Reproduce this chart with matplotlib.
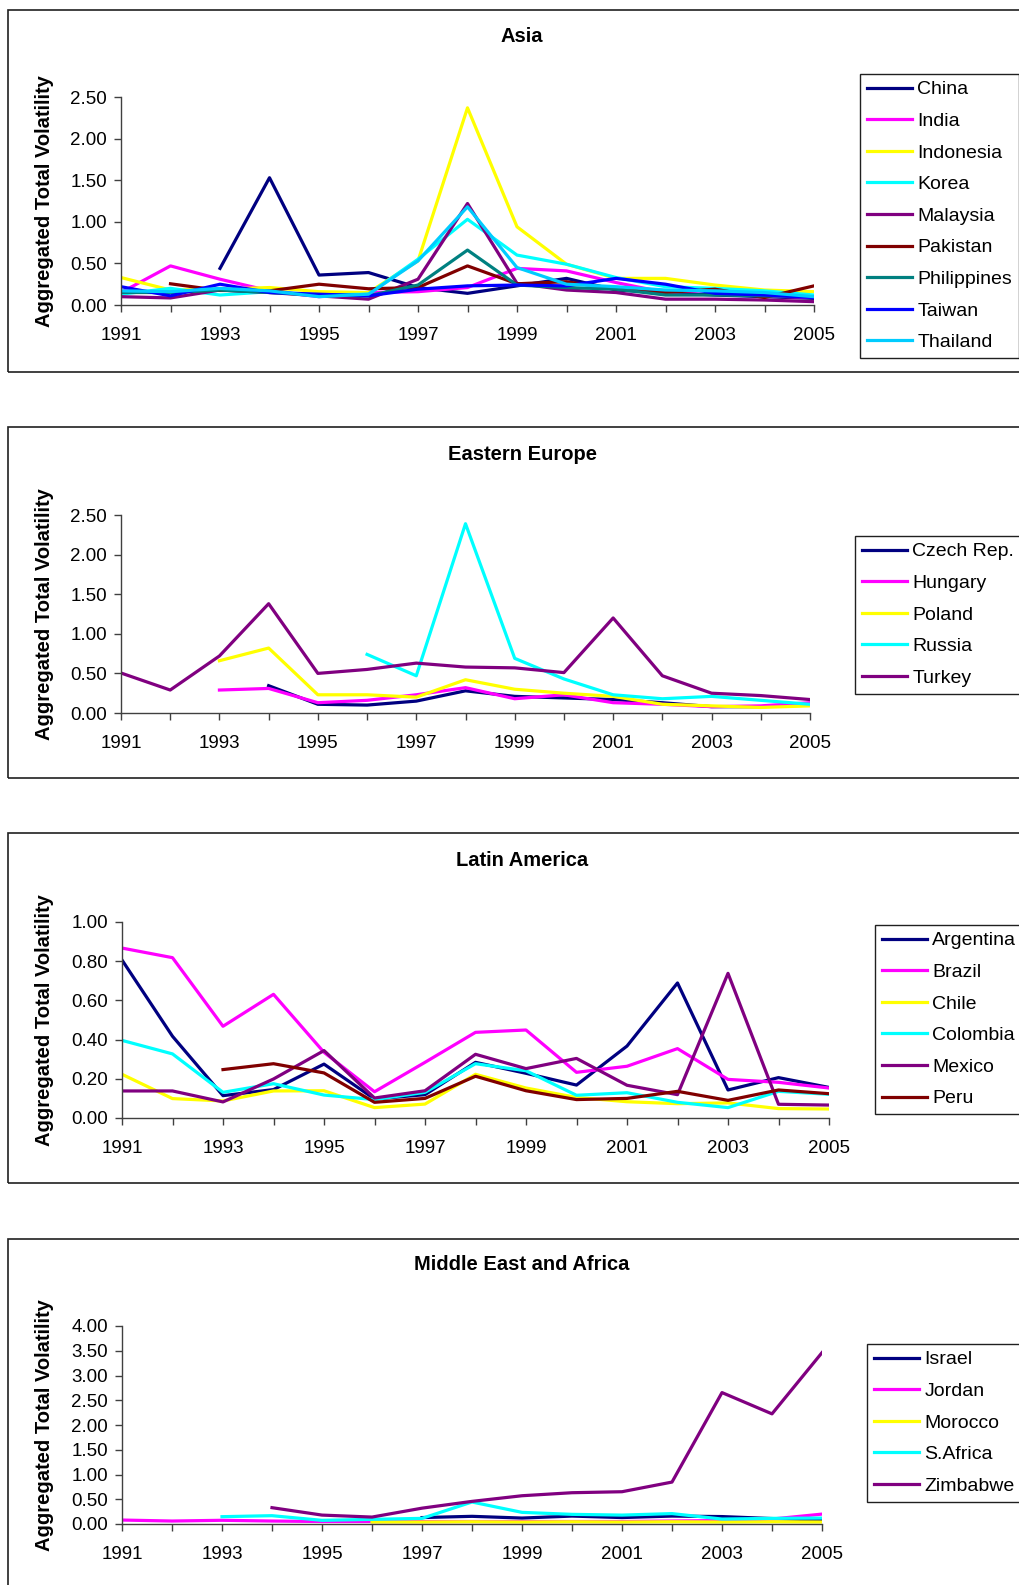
import matplotlib.pyplot as plt
import numpy as np
from matplotlib.patches import Rectangle
from matplotlib.ticker import FormatStrFormatter

plt.rcParams['font.family'] = ['Liberation Sans', 'DejaVu Sans']

nan = np.nan
years = list(range(1991, 2006))

# Asia
asia_names = ['China', 'India', 'Indonesia', 'Korea', 'Malaysia', 'Pakistan',
              'Philippines', 'Taiwan', 'Thailand']
china = [nan, nan, 0.44, 1.53, 0.36, 0.39, 0.21, 0.14, 0.23, 0.32, 0.18, 0.15, 0.12, 0.10, 0.08]
india = [0.15, 0.47, 0.31, 0.17, 0.10, 0.15, 0.16, 0.21, 0.44, 0.41, 0.27, 0.15, 0.18, 0.11, 0.09]
indonesia = [0.33, 0.18, 0.19, 0.21, 0.16, 0.15, 0.53, 2.37, 0.94, 0.49, 0.32, 0.32, 0.24, 0.18, 0.16]
korea = [0.13, 0.20, 0.12, 0.16, 0.12, 0.13, 0.55, 1.03, 0.60, 0.49, 0.33, 0.22, 0.20, 0.17, 0.12]
malaysia = [0.10, 0.085, 0.18, 0.15, 0.11, 0.07, 0.31, 1.22, 0.26, 0.18, 0.15, 0.07, 0.07, 0.06, 0.04]
pakistan = [nan, 0.255, 0.175, 0.17, 0.25, 0.195, 0.21, 0.47, 0.255, 0.28, 0.19, 0.15, 0.19, 0.09, 0.23]
philippines = [0.15, 0.15, 0.18, 0.15, 0.12, 0.11, 0.24, 0.66, 0.24, 0.21, 0.19, 0.12, 0.12, 0.11, 0.10]
taiwan = [0.22, 0.11, 0.25, 0.15, 0.13, 0.11, 0.19, 0.23, 0.24, 0.23, 0.32, 0.25, 0.14, 0.12, 0.09]
thailand = [0.17, 0.16, 0.20, 0.17, 0.10, 0.13, 0.53, 1.18, 0.45, 0.25, 0.22, 0.18, 0.17, 0.15, 0.10]
asia_vals = [china, india, indonesia, korea, malaysia, pakistan, philippines, taiwan, thailand]

# Eastern Europe
ee_names = ['Czech Rep.', 'Hungary', 'Poland', 'Russia', 'Turkey']
czech = [nan, nan, nan, 0.345, 0.11, 0.10, 0.15, 0.28, 0.21, 0.19, 0.17, 0.13, 0.08, 0.08, 0.105]
hungary = [nan, nan, 0.29, 0.31, 0.13, 0.16, 0.23, 0.32, 0.18, 0.23, 0.13, 0.11, 0.08, 0.09, 0.13]
poland = [nan, nan, 0.66, 0.82, 0.23, 0.23, 0.20, 0.42, 0.30, 0.25, 0.21, 0.11, 0.09, 0.07, 0.09]
russia = [nan, nan, nan, nan, nan, 0.74, 0.47, 2.39, 0.69, 0.43, 0.23, 0.18, 0.21, 0.16, 0.11]
turkey = [0.505, 0.29, 0.72, 1.38, 0.50, 0.55, 0.63, 0.58, 0.57, 0.51, 1.20, 0.47, 0.25, 0.22, 0.17]
ee_vals = [czech, hungary, poland, russia, turkey]

# Latin America
la_names = ['Argentina', 'Brazil', 'Chile', 'Colombia', 'Mexico', 'Peru']
argentina = [0.806, 0.417, 0.114, 0.145, 0.275, 0.097, 0.119, 0.284, 0.228, 0.168, 0.367, 0.689, 0.143, 0.206, 0.156]
brazil = [0.867, 0.818, 0.468, 0.631, 0.335, 0.134, 0.284, 0.437, 0.449, 0.233, 0.264, 0.354, 0.197, 0.182, 0.153]
chile = [0.223, 0.099, 0.087, 0.138, 0.139, 0.053, 0.071, 0.223, 0.153, 0.105, 0.083, 0.073, 0.077, 0.048, 0.046]
colombia = [0.396, 0.327, 0.131, 0.175, 0.117, 0.094, 0.131, 0.277, 0.241, 0.116, 0.129, 0.080, 0.053, 0.136, 0.121]
mexico = [0.138, 0.138, 0.082, 0.199, 0.344, 0.102, 0.139, 0.325, 0.252, 0.304, 0.167, 0.119, 0.738, 0.070, 0.066]
peru = [nan, nan, 0.247, 0.277, 0.230, 0.080, 0.100, 0.213, 0.139, 0.094, 0.100, 0.136, 0.090, 0.143, 0.124]
la_vals = [argentina, brazil, chile, colombia, mexico, peru]

# Middle East and Africa
me_names = ['Israel', 'Jordan', 'Morocco', 'S.Africa', 'Zimbabwe']
israel = [nan, nan, nan, nan, nan, nan, 0.13, 0.155, 0.12, 0.16, 0.13, 0.16, 0.15, 0.11, 0.08]
jordan = [0.08, 0.06, 0.075, 0.06, 0.05, 0.05, 0.05, 0.05, 0.05, 0.05, 0.05, 0.06, 0.07, 0.10, 0.20]
morocco = [nan, nan, nan, nan, nan, 0.04, 0.04, 0.045, 0.04, 0.045, 0.04, 0.045, 0.04, 0.045, 0.04]
safrica = [nan, nan, 0.148, 0.168, 0.074, 0.094, 0.114, 0.444, 0.235, 0.195, 0.18, 0.21, 0.10, 0.114, 0.12]
zimbabwe = [nan, nan, nan, 0.33, 0.18, 0.14, 0.32, 0.457, 0.571, 0.632, 0.652, 0.847, 2.655, 2.225, 3.462]
me_vals = [israel, jordan, morocco, safrica, zimbabwe]

colors = ['#000080', '#FF00FF', '#FFFF00', '#00FFFF', '#800080', '#800000',
          '#008080', '#0000FF', '#00CCFF']

W, H = 1019, 1585
fig = plt.figure(figsize=(W / 100, H / 100), dpi=100)

# panels: (title, names, values, axes box in px [left, right, top, bottom], ymax, ystep,
#          panel box [top, bottom], legend top-left)
panels = [
    ('Asia', asia_names, asia_vals, (121, 814, 97, 305), 2.5, 0.5, (10, 372), (860, 74)),
    ('Eastern Europe', ee_names, ee_vals, (121, 810, 515, 713), 2.5, 0.5, (427, 778), (855, 536)),
    ('Latin America', la_names, la_vals, (122, 829, 922, 1118), 1.0, 0.2, (833, 1183), (875, 925)),
    ('Middle East and Africa', me_names, me_vals, (122, 822, 1326, 1524), 4.0, 0.5, (1239, 1595), (867, 1344)),
]

for title, names, vals, box, ymax, ystep, pbox, lpos in panels:
    l, r, t, b = box
    # panel border
    fig.patches.append(Rectangle((8 / W, 1 - pbox[1] / H), 1.1, (pbox[1] - pbox[0]) / H,
                                 transform=fig.transFigure, fill=False,
                                 edgecolor='#202020', linewidth=1.2))
    ax = fig.add_axes([l / W, 1 - b / H, (r - l) / W, (b - t) / H])
    for name, v, c in zip(names, vals, colors):
        ax.plot(years, v, color=c, linewidth=2.3, label=name)
    ax.set_xlim(1991, 2005)
    ax.set_ylim(0, ymax)
    ax.set_yticks(np.arange(0, ymax + ystep / 2, ystep))
    ax.yaxis.set_major_formatter(FormatStrFormatter('%.2f'))
    ax.set_xticks(years)
    ax.set_xticklabels([str(y) if y % 2 == 1 else '' for y in years])
    for s in ['top', 'right']:
        ax.spines[s].set_visible(False)
    for s in ['left', 'bottom']:
        ax.spines[s].set_color('#404040')
        ax.spines[s].set_linewidth(1.0)
    ax.tick_params(direction='out', length=5, width=1.0, color='#404040',
                   labelsize=13.5, pad=5)
    ax.tick_params(axis='x', pad=11)
    fig.text(522 / W, 1 - (t - 61) / H, title, ha='center', va='center',
             fontsize=14.5, fontweight='bold')
    fig.text(45 / W, 1 - (t + b) / 2 / H, 'Aggregated Total Volatility', rotation=90,
             ha='center', va='center', fontsize=14.5, fontweight='bold')
    leg = ax.legend(loc='upper left', bbox_to_anchor=(lpos[0] / W, 1 - lpos[1] / H),
                    bbox_transform=fig.transFigure, borderaxespad=0, fontsize=14,
                    frameon=True, fancybox=False, framealpha=1, edgecolor='#202020',
                    handlelength=2.3, handletextpad=0.3, labelspacing=0.72,
                    borderpad=0.35)
    leg.get_frame().set_linewidth(1.0)

fig.savefig('out.png', dpi=100)
